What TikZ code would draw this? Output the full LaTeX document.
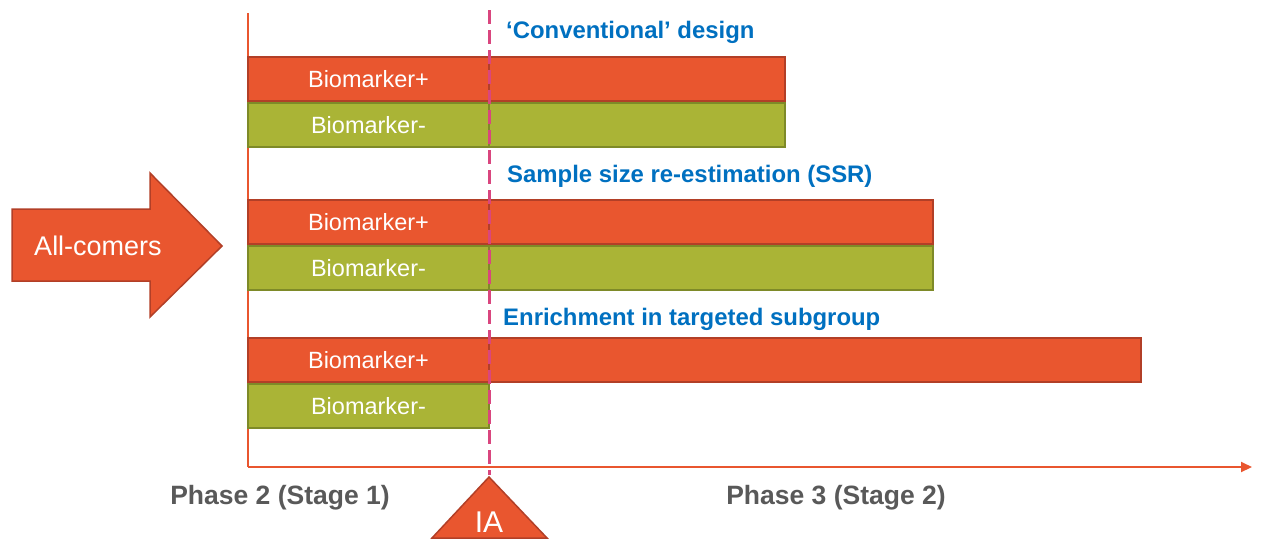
\documentclass[tikz,border=0pt]{standalone}
\usepackage{fontspec}
\setmainfont{Liberation Sans}
\usepackage{xcolor}
\usetikzlibrary{positioning,arrows.meta}
\definecolor{barred}{HTML}{E9562F}
\definecolor{barredline}{HTML}{B23F27}
\definecolor{bargreen}{HTML}{AAB436}
\definecolor{bargreenline}{HTML}{7E8A28}
\definecolor{titleblue}{HTML}{0070C0}
\definecolor{iapink}{HTML}{D9467E}
\definecolor{phasegray}{HTML}{595959}
\tikzstyle{bar} = [rectangle, draw, line width=2pt, inner sep=0pt, outer sep=0pt,
minimum height=44, text=white, font=\fontsize{23.5}{28}\selectfont]
\tikzstyle{posbar} = [bar, fill=barred, draw=barredline]
\tikzstyle{negbar} = [bar, fill=bargreen, draw=bargreenline]
\tikzstyle{grouptitle} = [anchor=west, inner sep=0pt, text=titleblue,
font=\fontsize{23.9}{28}\selectfont\bfseries]
\tikzstyle{phaselabel} = [inner sep=0pt, text=phasegray,
font=\fontsize{26.5}{30}\selectfont\bfseries]
\tikzstyle{axis} = [draw=barred, line width=2pt]

\begin{document}
\begin{tikzpicture}[x=1pt, y=-1pt, node distance=2pt]
	\useasboundingbox (0,0) rectangle (1261,539);
	% axes first, the bars lie over them
	\coordinate (origin) at (248,467);
	\coordinate (top) at (248,13);
	\coordinate (timeend) at (1252,467);
	\draw [axis] (top) -- (origin);
	\draw [axis, -{Triangle[length=11pt,width=10pt]}] (origin) -- (timeend);

	% stage 1 bars of the three designs
	\foreach \y/\name in {57/conv, 200/ssr, 338/enr} {
		\node [posbar, anchor=north west, minimum width=241] (pos1-\name) at (248,\y) {Biomarker+};
		\node [negbar, below=of pos1-\name, minimum width=241] (neg1-\name) {Biomarker-};
	}
	% stage 2 bars
	\node [posbar, right=0pt of pos1-conv, minimum width=296] (pos2-conv) {};
	\node [negbar, right=0pt of neg1-conv, minimum width=296] (neg2-conv) {};
	\node [posbar, right=0pt of pos1-ssr, minimum width=444] (pos2-ssr) {};
	\node [negbar, right=0pt of neg1-ssr, minimum width=444] (neg2-ssr) {};
	\node [posbar, right=0pt of pos1-enr, minimum width=652] (pos2-enr) {};

	% titles of the designs
	\node [grouptitle] (conv) at (506,32) {‘Conventional’ design};
	\node [grouptitle] (ssr) at (507,176) {Sample size re-estimation (SSR)};
	\node [grouptitle] (enr) at (503,319) {Enrichment in targeted subgroup};

	% all-comers arrow
	\draw [fill=barred, draw=barredline, line width=1.5pt, line join=miter]
	(12,209) -- (150,209) -- (150,173) -- (222,246) -- (150,317)
	-- (150,281) -- (12,281) -- cycle;
	\node [text=white, font=\fontsize{27}{32}\selectfont] (allcomers) at (98,246) {All-comers};

	% interim analysis
	\coordinate (iatop) at (489,10);
	\coordinate (iabottom) at (489,475);
	\draw [draw=iapink, line width=3pt, dash pattern=on 14pt off 6pt] (iatop) -- (iabottom);
	\draw [fill=barred, draw=barredline, line width=1.5pt]
	(489,477) -- (547,538) -- (432,538) -- cycle;
	\node [text=white, font=\fontsize{30}{34}\selectfont] (ia) at (489,522) {IA};

	% phases
	\node [phaselabel] (phase2) at (280,498) {Phase 2 (Stage 1)};
	\node [phaselabel] (phase3) at (836,498) {Phase 3 (Stage 2)};
\end{tikzpicture}
\end{document}
